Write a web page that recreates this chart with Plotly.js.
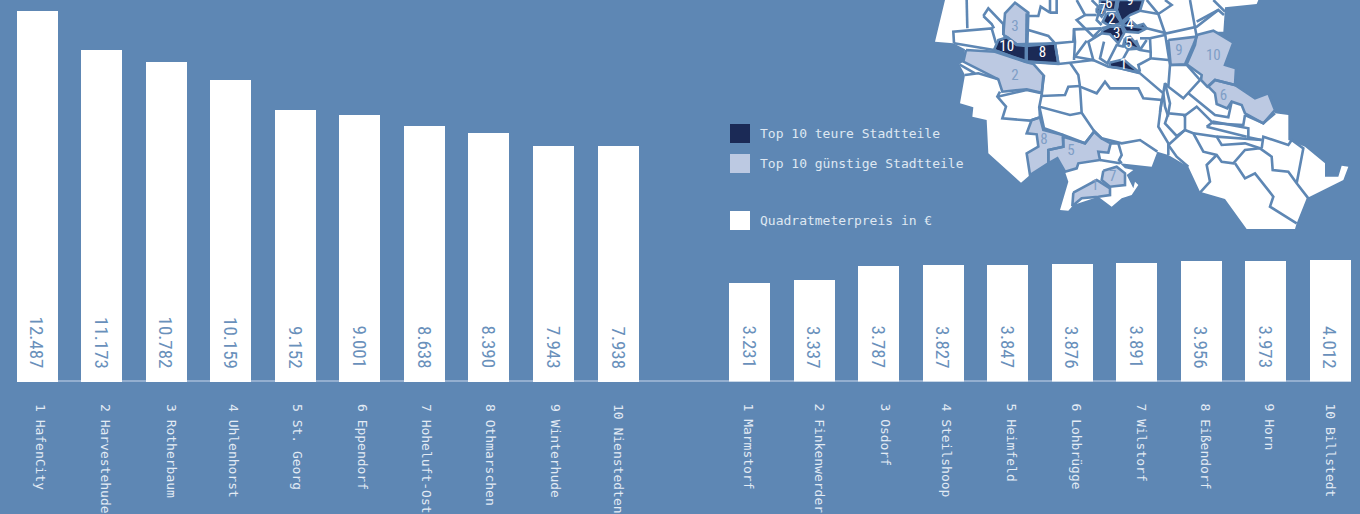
<!DOCTYPE html>
<html><head><meta charset="utf-8">
<script src="https://cdn.plot.ly/plotly-3.0.1.min.js"></script>
<style>html,body{margin:0;padding:0;background:#5e87b4;overflow:hidden}</style></head>
<body><div id="chart" style="width:1360px;height:514px"></div>
<script>
const teuerNames=["1 HafenCity","2 Harvestehude","3 Rotherbaum","4 Uhlenhorst","5 St. Georg","6 Eppendorf","7 Hoheluft-Ost","8 Othmarschen","9 Winterhude","10 Nienstedten"];
const teuerValues=[12487,11173,10782,10159,9152,9001,8638,8390,7943,7938];
const guenstigNames=["1 Marmstorf","2 Finkenwerder","3 Osdorf","4 Steilshoop","5 Heimfeld","6 Lohbrügge","7 Wilstorf","8 Eißendorf","9 Horn","10 Billstedt"];
const guenstigValues=[3231,3337,3787,3827,3847,3876,3891,3956,3973,4012];
const legendLabels=["Top 10 teure Stadtteile","Top 10 günstige Stadtteile","Quadratmeterpreis in €"];

// map geometry (map units)
const land=[[75,0],[45,125],[100,130],[135,148],[130,185],[118,193],[135,225],[120,310],[160,322],[157,350],[200,360],[205,460],[303,548],[330,525],[385,490],[412,475],[435,515],[445,545],[420,630],[445,632],[460,615],[535,590],[575,620],[605,595],[635,585],[655,555],[645,545],[640,565],[620,525],[640,510],[615,505],[600,490],[695,500],[712,455],[745,465],[805,500],[840,575],[915,597],[980,687],[1125,687],[1130,670],[1160,595],[1270,540],[1285,500],[1265,497],[1255,530],[1215,530],[1215,490],[1155,440],[1105,420],[1105,345],[1065,340],[1045,280],[1005,295],[945,255],[948,205],[915,195],[940,128],[880,95],[910,95],[915,22],[1010,12],[1015,0]];
const darkAreas=[
 [[222,150],[235,120],[260,112],[290,135],[318,138],[318,183],[275,170]],
 [[320,138],[405,130],[415,190],[320,185]],
 [[568,188],[610,178],[630,195],[660,218],[600,205],[570,200]],
 [[595,0],[590,30],[605,65],[630,45],[660,32],[670,0]],
 [[540,0],[590,0],[585,30],[565,30],[540,25]],
 [[530,25],[550,15],[555,35],[545,50],[530,35]],
 [[560,40],[585,40],[605,70],[570,78],[548,65]],
 [[605,75],[625,55],[650,78],[670,72],[680,85],[655,98],[618,95]],
 [[548,90],[570,80],[605,80],[612,100],[595,130],[570,103],[545,100]],
 [[615,115],[630,110],[660,145],[625,148],[610,135]]];
const lightAreas=[
 [[250,105],[255,40],[285,8],[325,38],[322,135],[290,133],[262,112]],
 [[138,150],[225,155],[315,185],[340,192],[372,228],[365,278],[320,268],[247,275],[235,238],[130,185]],
 [[335,360],[360,352],[370,390],[428,405],[430,440],[385,450],[385,490],[330,525],[320,460],[355,440],[350,403],[320,400]],
 [[385,490],[385,450],[430,440],[430,410],[495,430],[522,395],[545,415],[572,430],[565,458],[535,455],[540,480],[475,490],[470,505],[435,515],[412,475]],
 [[550,512],[590,500],[615,520],[615,555],[570,560],[545,540]],
 [[460,578],[530,540],[570,565],[570,585],[535,590],[485,595],[457,618]],
 [[745,120],[830,110],[820,135],[795,193],[752,195]],
 [[830,105],[880,92],[940,128],[915,195],[948,205],[945,255],[885,240],[862,260],[843,240],[845,225],[800,193],[825,135]],
 [[865,260],[885,240],[945,255],[1005,295],[1045,280],[1065,330],[1030,370],[975,340],[965,315],[935,305],[922,325],[890,312],[885,280]]];
const borders=[
 [[102,130],[100,95],[215,85],[228,130]],[[140,0],[142,85]],[[190,48],[205,25],[250,72],[250,105]],[[190,48],[215,72],[222,85]],
 [[102,130],[222,150],[318,185],[415,192],[450,188],[520,180],[565,200],[600,205],[660,220],[730,280],[735,320],[745,350]],
 [[322,48],[355,48],[362,20],[390,38],[390,0]],[[410,0],[410,38],[390,38]],
 [[325,90],[385,108],[405,130],[460,125],[462,88],[545,85]],[[462,88],[465,125],[462,180]],[[320,40],[318,185]],[[250,105],[262,112],[290,133],[405,130],[415,190]],
 [[470,0],[495,45],[470,60],[520,110],[545,85]],[[495,45],[530,45]],[[515,0],[540,25],[530,60],[545,75]],
 [[595,0],[590,30],[605,70],[545,85]],[[605,75],[680,85],[740,100],[830,80],[895,30],[912,45]],
 [[660,32],[715,42],[755,15],[735,0]],[[680,0],[715,42],[735,100],[750,195],[745,260],[790,295],[840,240],[800,195],[750,195]],
 [[745,260],[735,250],[720,335]],[[810,0],[830,110]],[[830,65],[895,30]],[[880,0],[915,35]],
 [[690,115],[735,105]],[[690,115],[692,155],[660,150],[610,130]],[[692,175],[655,195],[660,215]],[[660,115],[690,115]],
 [[500,122],[465,170],[520,180],[505,125],[545,100]],[[552,125],[540,175],[562,190],[590,135],[612,140]],[[625,148],[610,175]],[[680,120],[660,150],[648,120]],[[692,155],[692,175],[745,180]],
 [[450,188],[475,225],[480,260],[530,280],[555,245],[570,265],[655,265],[670,295],[725,300],[715,380],[745,430],[745,465]],
 [[370,228],[365,288],[435,285],[445,260],[480,258]],[[480,260],[485,338],[450,345],[358,320],[365,285]],
 [[485,338],[520,390],[545,415],[605,430],[660,420],[712,455]],[[358,320],[372,385],[430,405],[495,430],[522,395]],
 [[232,290],[320,270],[365,280]],[[240,275],[232,290],[258,320],[247,355],[330,362],[360,352],[358,320]],[[118,193],[165,220]],[[135,225],[175,220],[235,238]],
 [[572,430],[595,430],[605,465],[597,480],[605,490]],[[540,480],[600,490]],
 [[735,250],[750,310],[745,340],[795,345],[795,390],[745,435]],[[745,340],[735,370],[770,408],[795,390]],
 [[790,350],[830,320],[880,370],[970,375],[975,345]],[[805,280],[885,345],[925,352],[935,305]],[[860,380],[880,365],[985,385],[985,412],[1025,420]],[[860,380],[980,410]],
 [[795,390],[820,400],[850,455],[890,465],[905,485],[940,490],[975,450],[1020,445],[1055,470],[1058,510],[1105,515],[1130,550],[1165,595]],
 [[820,400],[890,410],[905,435],[975,430],[1020,445]],[[890,410],[1025,420]],[[975,345],[1030,370],[1065,340]],
 [[1025,445],[1030,410],[1105,435],[1115,420],[1150,445],[1130,550]],[[745,435],[770,470],[805,500]],
 [[890,465],[860,495],[870,545],[840,578]],[[945,490],[975,535],[1005,520],[1060,590],[1050,620],[1130,670]]];
const darkLabels=[["10",260,143],["8",367,160],["1",610,195],["9",630,3],["6",567,13],["7",547,30],["2",575,60],["4",630,75],["3",590,102],["5",625,132]];
const lightLabels=[["3",285,82],["2",285,230],["8",372,420],["5",453,455],["7",578,532],["1",525,560],["9",777,155],["10",880,168],["6",910,288]];

const W=1360,H=514,BG="#5e87b4",DARK="#1b2a56",LIGHT="#bcc9e2",LW=2.6;
const STEP_L=64.506,STEP_R=64.5,START_L=37.45,START_R=749.5;
const tickShiftL=[2.5,3.7,4.5,1.9,2.1,2.2,2.1,1.6,1.3,-0.2];
const tickShiftR=[-1.2,5,6.5,3.7,4.2,4.7,4.5,4.7,3.5,0];
const mono="'DejaVu Sans Mono', monospace", narrow="'Liberation Sans Narrow','Roboto Condensed',Roboto,sans-serif";
const idx=a=>a.map((_,i)=>i);
const fmt=v=>{const s=String(v);return s.slice(0,-3)+"."+s.slice(-3)};
const poly=(p,fill)=>({type:"scatter",mode:"lines",x:p.map(q=>q[0]),y:p.map(q=>q[1]),xaxis:"x3",yaxis:"y3",fill:"toself",fillcolor:fill,line:{width:0},hoverinfo:"skip",showlegend:false});
const stroke=p=>({type:"scatter",mode:"lines",x:p.map(q=>q[0]),y:p.map(q=>q[1]),xaxis:"x3",yaxis:"y3",line:{color:BG,width:LW},hoverinfo:"skip",showlegend:false});
const traces=[
 {type:"bar",x:idx(teuerValues),y:teuerValues,width:41/STEP_L,marker:{color:"#fff"},xaxis:"x",yaxis:"y",showlegend:false},
 {type:"bar",x:idx(guenstigValues),y:guenstigValues,width:41/STEP_R,marker:{color:"#fff"},xaxis:"x2",yaxis:"y2",showlegend:false},
 poly(land,"#fff"),
 ...lightAreas.map(p=>poly(p,LIGHT)),...darkAreas.map(p=>poly(p,DARK)),
 ...borders.map(stroke),
 ...lightAreas.concat(darkAreas).map(p=>stroke(p.concat([p[0]]))),
 {type:"scatter",mode:"text",x:darkLabels.map(l=>l[1]),y:darkLabels.map(l=>l[2]),text:darkLabels.map(l=>l[0]),textfont:{family:narrow,size:15,color:"#fff"},xaxis:"x3",yaxis:"y3",hoverinfo:"skip",showlegend:false,cliponaxis:false},
 {type:"scatter",mode:"text",x:lightLabels.map(l=>l[1]),y:lightLabels.map(l=>l[2]),text:lightLabels.map(l=>l[0]),textfont:{family:narrow,size:15,color:"#7f9ec6"},xaxis:"x3",yaxis:"y3",hoverinfo:"skip",showlegend:false,cliponaxis:false}
];
const xa=(dom,range,names,shift,step)=>({domain:dom,range:range,tickmode:"array",tickvals:names.map((_,i)=>i+shift[i]/step),ticktext:names,tickangle:90,ticks:"",showline:false,showgrid:false,zeroline:false,ticklabelstandoff:21,tickfont:{family:mono,size:13,color:"#e3ebf4"},fixedrange:true});
const ya=(base,pxPerUnit,xanchor)=>({domain:[(H-base)/H,1],range:[0,base/pxPerUnit],visible:false,fixedrange:true,anchor:xanchor});
const valAnn=(vals,xr,yr)=>vals.map((v,i)=>({x:i,y:0,xref:xr,yref:yr,text:fmt(v),textangle:90,showarrow:false,yanchor:"bottom",yshift:11,font:{family:narrow,size:19,color:"#6990bb"}}));
const legendY=[133.5,163.5,220.5],legendColors=[DARK,LIGHT,"#fff"];
const layout={
 width:W,height:H,margin:{l:0,r:0,t:0,b:0},paper_bgcolor:BG,plot_bgcolor:"rgba(0,0,0,0)",bargap:0,showlegend:false,
 xaxis:Object.assign(xa([0,0.5],[-START_L/STEP_L,(680-START_L)/STEP_L],teuerNames,tickShiftL,STEP_L),{anchor:"y"}),
 yaxis:ya(382,0.02968,"x"),
 xaxis2:Object.assign(xa([0.5,1],[(680-START_R)/STEP_R,(1360-START_R)/STEP_R],guenstigNames,tickShiftR,STEP_R),{anchor:"y2"}),
 yaxis2:ya(381.5,0.0304,"x2"),
 xaxis3:{domain:[0,1],range:[-2760,1320],visible:false,anchor:"y3",fixedrange:true},
 yaxis3:{domain:[0,1],range:[1542,0],visible:false,anchor:"x3",fixedrange:true},
 shapes:[{type:"line",xref:"paper",yref:"paper",x0:17/W,x1:1351/W,y0:(H-381)/H,y1:(H-381)/H,line:{color:"#93aecf",width:2},layer:"below"},
  ...legendY.map((y,i)=>({type:"rect",xref:"paper",yref:"paper",x0:730/W,x1:750/W,y0:(H-y-9.5)/H,y1:(H-y+9.5)/H,fillcolor:legendColors[i],line:{width:0}}))],
 annotations:[...valAnn(teuerValues,"x","y"),...valAnn(guenstigValues,"x2","y2"),
  ...legendLabels.map((t,i)=>({xref:"paper",yref:"paper",x:758/W,y:(H-legendY[i])/H,xanchor:"left",yanchor:"middle",text:t,showarrow:false,font:{family:mono,size:13,color:"#dfe8f2"}}))]
};
Plotly.newPlot("chart",traces,layout,{displayModeBar:false,staticPlot:true});
</script></body></html>
